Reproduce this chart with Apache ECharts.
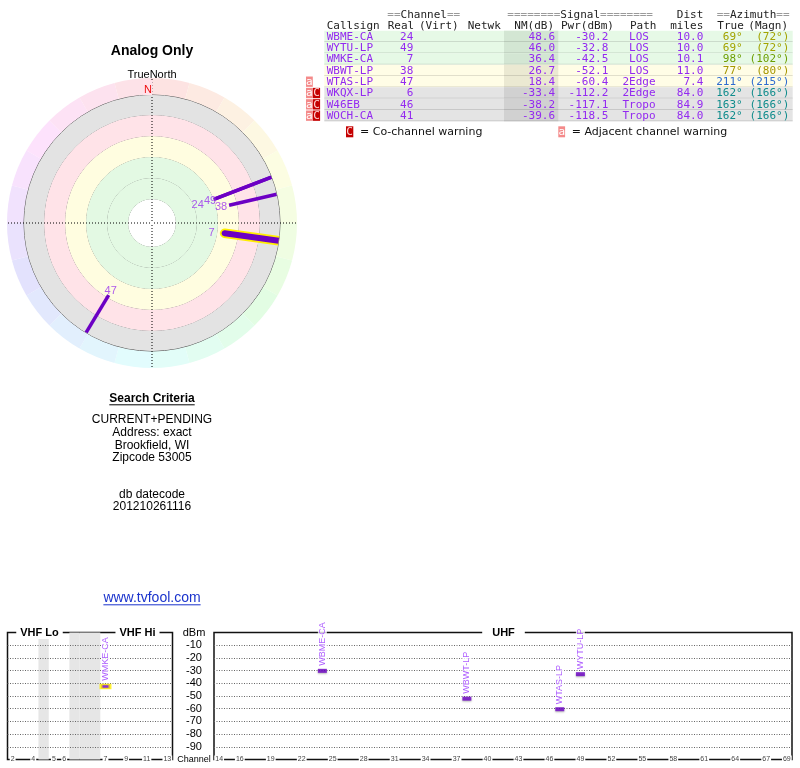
<!DOCTYPE html>
<html><head><meta charset="utf-8">
<script src="https://cdn.jsdelivr.net/npm/echarts@6/dist/echarts.min.js"></script>
<style>html,body{margin:0;padding:0;background:#fff}#c{width:800px;height:768px}</style>
</head><body><div id="c"></div>
<script>
// ---------------- data ----------------
const callsigns = ['WBME-CA','WYTU-LP','WMKE-CA','WBWT-LP','WTAS-LP','WKQX-LP','W46EB','WOCH-CA'];
const realCh    = [24, 49, 7, 38, 47, 6, 46, 41];
const nmDb      = [48.6, 46.0, 36.4, 26.7, 18.4, -33.4, -38.2, -39.6];
const pwrDbm    = [-30.2, -32.8, -42.5, -52.1, -60.4, -112.2, -117.1, -118.5];
const pathType  = ['LOS','LOS','LOS','LOS','2Edge','2Edge','Tropo','Tropo'];
const distMiles = [10.0, 10.0, 10.1, 11.0, 7.4, 84.0, 84.9, 84.0];
const azTrue    = [69, 69, 98, 77, 211, 162, 163, 162];
const azMagn    = [72, 72, 102, 80, 215, 166, 166, 166];
const adjWarn   = [false,false,false,false,true,true,true,true];
const coWarn    = [false,false,false,false,false,true,true,true];
const highlighted = ['WMKE-CA'];

const vhfSlots      = ['2','3','4','gap','5','6','fm1','fm2','fm3','7','8','9','10','11','12','13'];
const vhfGapSlots   = ['gap','fm1','fm2','fm3'];
const vhfTickLabels = ['2','4','5','6','7','9','11','13'];
const uhfChannels   = ['14','15','16','17','18','19','20','21','22','23','24','25','26','27','28','29','30','31','32','33','34','35','36','37','38','39','40','41','42','43','44','45','46','47','48','49','50','51','52','53','54','55','56','57','58','59','60','61','62','63','64','65','66','67','68','69'];
const uhfTickLabels = ['14','16','19','22','25','28','31','34','37','40','43','46','49','52','55','58','61','64','67','69'];

const chartTitle   = 'Analog Only';
const northLabel   = 'TrueNorth';
const searchTitle  = 'Search Criteria';
const searchLines  = ['CURRENT+PENDING','Address: exact','Brookfield, WI','Zipcode 53005'];
const dbLines      = ['db datecode','201210261116'];
const siteLink     = 'www.tvfool.com';

// ---------------- styles ----------------
const PURPLE_TXT = '#9329f0';
const PURPLE_BAR = '#6c00c4';
const azColors = ['#a3a300','#a3a300','#6b9e00','#a69600','#2e6bd0','#108c8c','#108c8c','#108c8c'];
const polarLabelOffsets = {'WBME-CA':[-16,6],'WYTU-LP':[-5,2],'WMKE-CA':[-13,0],'WBWT-LP':[-8,2],'WTAS-LP':[2,-4]};
const CX = 152, CY = 223;
const R_MIN = -55, R_MAX = 159; // radial NM scale (outer edge -> centre)

const ringColors = [];
for (let i = 0; i < 24; i++) ringColors.push('hsl(' + ((15*i + 2.5 + 360) % 360) + ',90%,94%)');
const bandColors = ['#ffffff','#e3f9e3','#e3f9e3','#fffde0','#ffe3e8','#e3e3e3'];

// ---------------- polar series ----------------
const series = [];
const visible = callsigns.map((c,i)=>i).filter(i => nmDb[i] > 0);
visible.slice().reverse().forEach(i => {
  const hl = highlighted.includes(callsigns[i]);
  const d = [[nmDb[i], azTrue[i]], [R_MIN, azTrue[i]]];
  if (hl) series.push({type:'line', coordinateSystem:'polar', polarIndex:2, data:d, symbol:'none', silent:true, z:5,
     lineStyle:{color:'#ffee00', width:9.5, cap:'round'}});
  series.push({type:'line', coordinateSystem:'polar', polarIndex:2, data:d, symbol:'none', silent:true, z:6,
     lineStyle:{color:PURPLE_BAR, width: hl ? 6 : 3.5, cap: hl ? 'round' : 'butt'}});
});
series.push({type:'scatter', coordinateSystem:'polar', polarIndex:2, silent:true, z:8, symbolSize:1,
  itemStyle:{color:'rgba(0,0,0,0)'},
  data: visible.map(i => ({value:[nmDb[i], azTrue[i]], name:callsigns[i],
     label:{show:true, position:'inside', offset: polarLabelOffsets[callsigns[i]] || [0,0], formatter: String(realCh[i]),
       color:'#9a30ee', fontSize:11, fontFamily:'Liberation Sans'}}))
});

// ---------------- spectrum series ----------------
series.push({type:'bar', xAxisIndex:0, yAxisIndex:0, silent:true, z:1, barWidth:'100%',
  itemStyle:{color:'#e6e6e6'},
  data: vhfSlots.map(s => vhfGapSlots.includes(s) ? -100 : '-')});
function markData(filterFn){
  return visible.filter(filterFn).map(i => {
    const hl = highlighted.includes(callsigns[i]);
    return {value:[String(realCh[i]), pwrDbm[i]], name:callsigns[i],
      itemStyle: hl ? {color:PURPLE_BAR, borderColor:'#ffee00', borderWidth:2} : {color:PURPLE_BAR, shadowColor:'rgba(0,0,0,0.35)', shadowBlur:2, shadowOffsetY:1}};
  });
}
const markLabel = {show:true, formatter:p=>p.name, position:'top', rotate:90, align:'left', verticalAlign:'middle',
  distance:3, fontSize:9, color:'#9933ff', fontFamily:'Liberation Sans', backgroundColor:'#fff'};
series.push({type:'scatter', xAxisIndex:0, yAxisIndex:0, silent:true, z:6, symbol:'rect', symbolSize:[9,4],
  label:markLabel, data: markData(i => realCh[i] <= 13)});
series.push({type:'scatter', xAxisIndex:1, yAxisIndex:1, silent:true, z:6, symbol:'rect', symbolSize:[9,4],
  label:markLabel, data: markData(i => realCh[i] >= 14)});

// ---------------- graphic (table and texts) ----------------
const meas = document.createElement('canvas').getContext('2d');
function textW(font, t){ meas.font = font; return meas.measureText(t).width; }
const MONO = '11px "DejaVu Sans Mono"';
const SANS = '11px "DejaVu Sans"';
const rects = [], texts = [];
function rect(x,y,w,h,fill){ rects.push({type:'rect', z:100, silent:true, shape:{x,y,width:w,height:h}, style:{fill}}); }
function hline(x1,x2,y,stroke,w){ rects.push({type:'line', z:100, silent:true, shape:{x1,y1:y,x2,y2:y}, style:{stroke, lineWidth:w||1}}); }
function txt(x,y,text,opt){ texts.push({type:'text', z:101, x, y, silent:true,
  style:Object.assign({text, font:MONO, fill:'#222', align:'left', verticalAlign:'middle'}, opt||{})}); }

// table header
const gRich = {g:{fill:'#9a9a9a', font:MONO}};
txt(387.3, 15, '{g|==}Channel{g|==}', {rich:gRich});
txt(507.3, 15, '{g|========}Signal{g|========}', {rich:gRich});
txt(703.3, 15, 'Dist', {align:'right'});
txt(716.7, 15, '{g|==}Azimuth{g|==}', {rich:gRich});
txt(326.7, 26, 'Callsign'); txt(387.7, 26, 'Real'); txt(419, 26, '(Virt)'); txt(467.7, 26, 'Netwk');
txt(514.3, 26, 'NM(dB)'); txt(561, 26, 'Pwr(dBm)'); txt(630, 26, 'Path'); txt(703.3, 26, 'miles', {align:'right'});
txt(717.3, 26, 'True'); txt(748.3, 26, '(Magn)');

const ROW0 = 30.7, ROWH = 11.33;
callsigns.forEach((c, i) => {
  const top = ROW0 + ROWH*i, cy = top + ROWH/2 + 0.3;
  const nm = nmDb[i];
  const bg = nm >= 35 ? ['#e6f9e6','#d3e6d3'] : nm >= 15 ? ['#fffde6','#ebe9d2'] : nm >= 0 ? ['#ffe6ea','#ecd3d7'] : ['#e4e4e4','#d1d1d1'];
  rect(324.3, top, 468.4, ROWH, bg[0]);
  rect(504, top, 54.3, ROWH, bg[1]);
  hline(324.3, 792.7, top + ROWH - 0.5, 'rgba(0,0,0,0.12)', 1);
  if (adjWarn[i]) { rect(306, top+0.5, 6.8, ROWH-1, '#f48a8a'); txt(309.4, cy, 'a', {align:'center', fill:'#fff'}); }
  if (coWarn[i])  { rect(312.9, top+0.5, 7.2, ROWH-1, '#c40000'); txt(316.5, cy, 'C', {align:'center', fill:'#ffd6d6'}); }
  txt(326.7, cy, c, {fill:PURPLE_TXT});
  txt(413.3, cy, String(realCh[i]), {fill:PURPLE_TXT, align:'right'});
  txt(555, cy, nm.toFixed(1), {fill:PURPLE_TXT, align:'right'});
  txt(608.3, cy, pwrDbm[i].toFixed(1), {fill:PURPLE_TXT, align:'right'});
  txt(639, cy, pathType[i], {fill:PURPLE_TXT, align:'center'});
  txt(703.3, cy, distMiles[i].toFixed(1), {fill:PURPLE_TXT, align:'right'});
  txt(742.7, cy, azTrue[i] + '°', {fill:azColors[i], align:'right'});
  txt(789.3, cy, '(' + azMagn[i] + '°)', {fill:azColors[i], align:'right'});
});
// legend
rect(346, 126.3, 7.3, 11, '#c40000'); txt(349.6, 132, 'C', {align:'center', fill:'#ffd6d6'});
txt(360, 132, '= Co-channel warning', {font:SANS, fill:'#111'});
rect(558.3, 126.3, 6.8, 11, '#f48a8a'); txt(561.7, 132, 'a', {align:'center', fill:'#fff'});
txt(571.7, 132, '= Adjacent channel warning', {font:SANS, fill:'#111'});

// left column texts
txt(152, 51.5, chartTitle, {font:'bold 14px "Liberation Sans"', fill:'#000', align:'center'});
txt(152, 74.5, northLabel, {font:'11px "Liberation Sans"', fill:'#000', align:'center'});
rect(143, 80, 9.5, 15, '#ffe2ea');
txt(148, 90, 'N', {font:'11px "Liberation Sans"', fill:'#ee1111', align:'center'});
const stFont = 'bold 12px "Liberation Sans"';
txt(152, 398.3, searchTitle, {font:stFont, fill:'#000', align:'center'});
const stW = textW(stFont, searchTitle);
hline(152 - stW/2, 152 + stW/2, 404.8, '#000', 1);
searchLines.forEach((t, k) => txt(152, 420 + 12.6*k, t, {font:'12px "Liberation Sans"', fill:'#000', align:'center'}));
dbLines.forEach((t, k) => txt(152, 494.3 + 12.4*k, t, {font:'12px "Liberation Sans"', fill:'#000', align:'center'}));
const lkFont = '14px "Liberation Sans"';
txt(152, 598.3, siteLink, {font:lkFont, fill:'#1a33cc', align:'center'});
const lkW = textW(lkFont, siteLink);
hline(152 - lkW/2, 152 + lkW/2, 604.8, '#1a33cc', 1);
// spectrum box headers
const hdrFont = 'bold 11px "Liberation Sans"';
txt(39.5, 632.5, 'VHF Lo', {font:hdrFont, fill:'#000', align:'center', backgroundColor:'#fff', padding:[1,4]});
txt(137.5, 632.5, 'VHF Hi', {font:hdrFont, fill:'#000', align:'center', backgroundColor:'#fff', padding:[1,4]});
txt(503.5, 632.5, 'UHF', {font:hdrFont, fill:'#000', align:'center', backgroundColor:'#fff', padding:[1,10]});

// ---------------- option ----------------
const hiddenAxis = {axisLine:{show:false}, axisTick:{show:false}, axisLabel:{show:false}, splitLine:{show:false}, splitArea:{show:false}};
const option = {
  animation:false,
  backgroundColor:'#fff',
  polar:[
    {center:[CX,CY], radius:[128,145]},
    {center:[CX,CY], radius:[3,128]},
    {center:[CX,CY], radius:[0,128]},
    {center:[CX,CY], radius:[0,144]}
  ],
  angleAxis:[
    Object.assign({}, hiddenAxis, {polarIndex:0, type:'value', min:0, max:360, interval:15, startAngle:90, clockwise:true, z:0,
      splitArea:{show:true, areaStyle:{color:ringColors}}}),
    Object.assign({}, hiddenAxis, {polarIndex:1, type:'value', min:0, max:360, interval:90, startAngle:90, z:1}),
    Object.assign({}, hiddenAxis, {polarIndex:2, type:'value', min:0, max:360, interval:90, startAngle:90, clockwise:true, z:1}),
    Object.assign({}, hiddenAxis, {polarIndex:3, type:'value', min:0, max:360, interval:90, startAngle:90, z:2,
      splitLine:{show:true, lineStyle:{color:'#000', type:[1,2], width:1}}})
  ],
  radiusAxis:[
    Object.assign({}, hiddenAxis, {polarIndex:0, type:'value', min:0, max:1}),
    Object.assign({}, hiddenAxis, {polarIndex:1, type:'value', min:0, max:125, interval:21, z:1,
      splitLine:{show:true, lineStyle:{color:['rgba(0,0,0,0)','#555','#555','#555','#555','#555','#555'], width:1}},
      splitArea:{show:true, areaStyle:{color:bandColors}}}),
    Object.assign({}, hiddenAxis, {polarIndex:2, type:'value', min:R_MIN, max:R_MAX, inverse:true}),
    Object.assign({}, hiddenAxis, {polarIndex:3, type:'value', min:0, max:1})
  ],
  grid:[
    {left:7.5, top:632.5, width:165, height:127, show:true, borderColor:'#111', borderWidth:1.5},
    {left:214, top:632.5, width:578, height:127, show:true, borderColor:'#111', borderWidth:1.5}
  ],
  xAxis:[
    {gridIndex:0, type:'category', data:vhfSlots, z:4, axisLine:{show:false}, axisTick:{show:false}, splitLine:{show:false},
      axisLabel:{interval:(idx, v) => vhfTickLabels.includes(v), fontSize:7, color:'#444', margin:-4, fontFamily:'Liberation Sans',
        backgroundColor:'#fff', padding:[0,1]}},
    {gridIndex:1, type:'category', data:uhfChannels, z:4, axisLine:{show:false}, axisTick:{show:false}, splitLine:{show:false},
      axisLabel:{interval:(idx, v) => uhfTickLabels.includes(v), fontSize:7, color:'#444', margin:-4, fontFamily:'Liberation Sans',
        backgroundColor:'#fff', padding:[0,1]}}
  ],
  yAxis:[
    {gridIndex:0, type:'value', min:-100, max:0, interval:10, z:3, axisLine:{show:false}, axisTick:{show:false}, axisLabel:{show:false},
      splitLine:{show:true, showMinLine:false, showMaxLine:false, lineStyle:{color:'#666', type:[1,1.5], width:1}}},
    {gridIndex:1, type:'value', min:-100, max:0, interval:10, z:3, axisLine:{show:false}, axisTick:{show:false},
      splitLine:{show:true, showMinLine:false, showMaxLine:false, lineStyle:{color:'#666', type:[1,1.5], width:1}},
      axisLabel:{show:true, showMinLabel:true, showMaxLabel:true, align:'center', margin:20, fontSize:11, color:'#000', fontFamily:'Liberation Sans',
        formatter: v => v === 0 ? 'dBm' : (v === -100 ? '{c|Channel}' : String(v)), rich:{c:{fontSize:9, fontFamily:'Liberation Sans', color:'#000'}}}}
  ],
  graphic:{z:100, elements: rects.concat(texts)},
  series
};
const chart = echarts.init(document.getElementById('c'));
chart.setOption(option);
</script></body></html>
